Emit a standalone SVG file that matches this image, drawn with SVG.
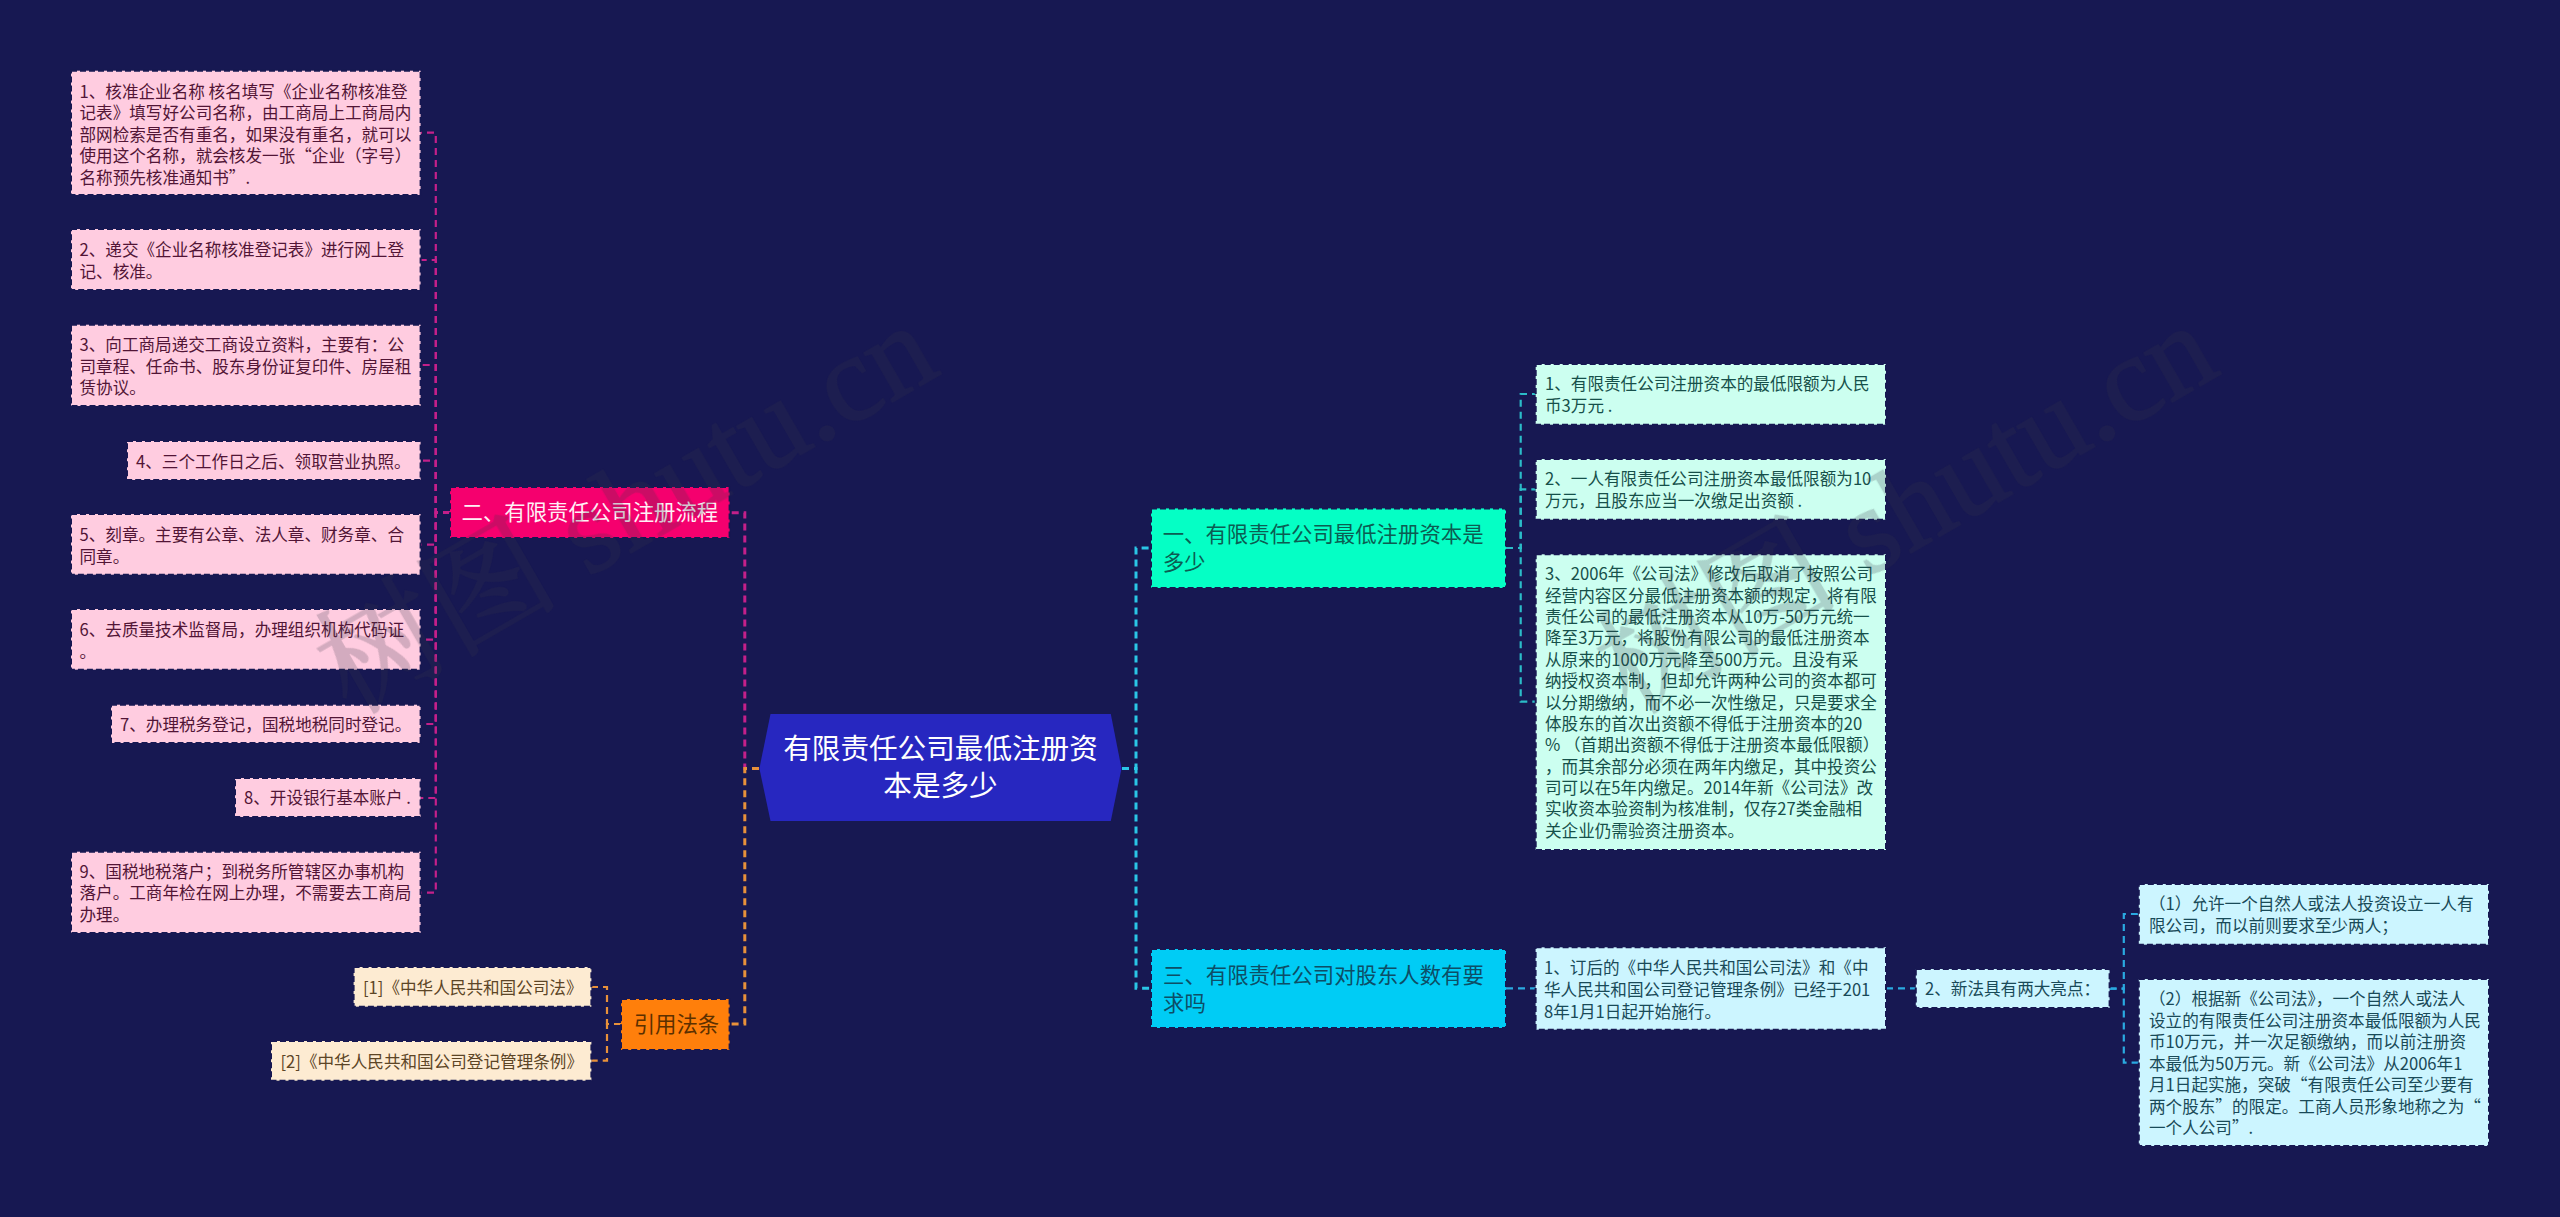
<svg xmlns="http://www.w3.org/2000/svg" width="2560" height="1217" viewBox="0 0 2560 1217">
<style>
text{font-family:"Microsoft YaHei","Noto Sans CJK SC","Noto Sans",sans-serif;white-space:pre}
.s{font-size:16.6px}
.m{font-size:21.4px}
.box{stroke:#171852;stroke-width:2;stroke-dasharray:6 3}
.pink{fill:#ffcce0}.pinkt{fill:#521536}
.cite{fill:#fdebd2}.citet{fill:#5c4526}
.aqua{fill:#ccfff0}.aquat{fill:#16504a}
.sky{fill:#ccf5ff}.skyt{fill:#194a58}
.c{fill:none;stroke-dasharray:7 5}
.c1{stroke-width:3}.c2{stroke-width:2.2}
.cp{stroke:#c4208a}.co{stroke:#e8913a}.cb{stroke:#2ac6e6}.ct{stroke:#2bbcc8}.cs{stroke:#2aa9e0}
.wm{font-family:"Liberation Serif","Noto Serif CJK SC","Noto Sans CJK SC",serif;font-size:122px;fill:#3a3a4a;stroke:#3a3a4a;stroke-width:1.5}
</style>
<rect width="2560" height="1217" fill="#171852"/>
<g id="connectors">
<path class="c c1 cb" d="M1122,768.4H1136V548H1151"/>
<path class="c c1 cb" d="M1122,768.4H1136V988.3H1151"/>
<path class="c c1 cp" d="M759,768.4H744.8V512.7H729.6"/>
<path class="c c1 co" d="M759,768.4H744.8V1024H729.6"/>
<path class="c c2 cp" d="M450,512.7H435.8V132.7H420.6"/>
<path class="c c2 cp" d="M450,512.7H435.8V260H420.6"/>
<path class="c c2 cp" d="M450,512.7H435.8V365H420.6"/>
<path class="c c2 cp" d="M450,512.7H435.8V460.7H420.6"/>
<path class="c c2 cp" d="M450,512.7H435.8V544.7H420.6"/>
<path class="c c2 cp" d="M450,512.7H435.8V639.7H420.6"/>
<path class="c c2 cp" d="M450,512.7H435.8V724H420.6"/>
<path class="c c2 cp" d="M450,512.7H435.8V798H420.6"/>
<path class="c c2 cp" d="M450,512.7H435.8V892.7H420.6"/>
<path class="c c2 co" d="M621,1024H607V987H591.4"/>
<path class="c c2 co" d="M621,1024H607V1060.7H591.4"/>
<path class="c c2 ct" d="M1506,548H1520.7V394H1535.7"/>
<path class="c c2 ct" d="M1506,548H1520.7V489.3H1535.7"/>
<path class="c c2 ct" d="M1506,548H1520.7V701.7H1535.7"/>
<path class="c c2 cs" d="M1506,988.3H1535.6"/>
<path class="c c2 cs" d="M1886,988.3H1915.8"/>
<path class="c c2 cs" d="M2109.6,988.7H2123.8V914H2138.8"/>
<path class="c c2 cs" d="M2109.6,988.7H2123.8V1062.7H2138.8"/>
</g>
<g id="root">
<polygon points="759.4,768.4 770.5,714 1110.8,714 1121.5,768.4 1110.8,821 770.5,821" fill="#2727c0"/>
<text font-size="28.6" fill="#fff" text-anchor="middle"><tspan x="940.5" y="759">有限责任公司最低注册资</tspan><tspan x="940.5" y="796">本是多少</tspan></text>
</g>
<g id="n1">
<rect class="box" x="1151" y="508.4" width="355" height="79.6" fill="#05ffc5"/>
<text class="m" fill="#0b5d52"><tspan x="1162.7" y="542">一、有限责任公司最低注册资本是</tspan><tspan x="1162.7" y="570">多少</tspan></text>
</g>
<g id="n1-1">
<rect class="box aqua" x="1535.7" y="364" width="350.3" height="60.7"/>
<text class="s aquat"><tspan x="1545" y="390.3">1、有限责任公司注册资本的最低限额为人民</tspan><tspan x="1545" y="412">币3万元 .</tspan></text>
</g>
<g id="n1-2">
<rect class="box aqua" x="1535.7" y="459" width="350.3" height="60.7"/>
<text class="s aquat"><tspan x="1545" y="485">2、一人有限责任公司注册资本最低限额为10</tspan><tspan x="1545" y="507">万元，且股东应当一次缴足出资额 .</tspan></text>
</g>
<g id="n1-3">
<rect class="box aqua" x="1535.7" y="554.3" width="350.3" height="295.7"/>
<text class="s aquat"><tspan x="1545" y="580.3">3、2006年《公司法》修改后取消了按照公司</tspan><tspan x="1545" dy="21.37">经营内容区分最低注册资本额的规定，将有限</tspan><tspan x="1545" dy="21.37">责任公司的最低注册资本从10万-50万元统一</tspan><tspan x="1545" dy="21.37">降至3万元，将股份有限公司的最低注册资本</tspan><tspan x="1545" dy="21.37">从原来的1000万元降至500万元。且没有采</tspan><tspan x="1545" dy="21.37">纳授权资本制，但却允许两种公司的资本都可</tspan><tspan x="1545" dy="21.37">以分期缴纳，而不必一次性缴足，只是要求全</tspan><tspan x="1545" dy="21.37">体股东的首次出资额不得低于注册资本的20</tspan><tspan x="1545" dy="21.37">% （首期出资额不得低于注册资本最低限额）</tspan><tspan x="1545" dy="21.37">，而其余部分必须在两年内缴足，其中投资公</tspan><tspan x="1545" dy="21.37">司可以在5年内缴足。2014年新《公司法》改</tspan><tspan x="1545" dy="21.37">实收资本验资制为核准制，仅存27类金融相</tspan><tspan x="1545" dy="21.37">关企业仍需验资注册资本。</tspan></text>
</g>
<g id="n3">
<rect class="box" x="1151" y="949" width="355" height="79" fill="#00ccf5"/>
<text class="m" fill="#0d4e66"><tspan x="1163" y="982.6">三、有限责任公司对股东人数有要</tspan><tspan x="1163" y="1010.6">求吗</tspan></text>
</g>
<g id="n3-1">
<rect class="box sky" x="1535.6" y="947.3" width="350.4" height="82.4"/>
<text class="s skyt"><tspan x="1544" y="974">1、订后的《中华人民共和国公司法》和《中</tspan><tspan x="1544" y="995.7">华人民共和国公司登记管理条例》已经于201</tspan><tspan x="1544" y="1017.7">8年1月1日起开始施行。</tspan></text>
</g>
<g id="n3-2">
<rect class="box sky" x="1915.8" y="969" width="193.8" height="39"/>
<text class="s skyt" x="1925" y="995">2、新法具有两大亮点：</text>
</g>
<g id="n3-2-1">
<rect class="box sky" x="2138.8" y="884" width="350.2" height="60.7"/>
<text class="s skyt"><tspan x="2149" y="910.3">（1）允许一个自然人或法人投资设立一人有</tspan><tspan x="2149" y="932">限公司，而以前则要求至少两人；</tspan></text>
</g>
<g id="n3-2-2">
<rect class="box sky" x="2138.8" y="979" width="350.2" height="167"/>
<text class="s skyt"><tspan x="2149" y="1005.3">（2）根据新《公司法》，一个自然人或法人</tspan><tspan x="2149" dy="21.5">设立的有限责任公司注册资本最低限额为人民</tspan><tspan x="2149" dy="21.5">币10万元，并一次足额缴纳，而以前注册资</tspan><tspan x="2149" dy="21.5">本最低为50万元。新《公司法》从2006年1</tspan><tspan x="2149" dy="21.5">月1日起实施，突破“有限责任公司至少要有</tspan><tspan x="2149" dy="21.5">两个股东”的限定。工商人员形象地称之为“</tspan><tspan x="2149" dy="21.5">一个人公司”.</tspan></text>
</g>
<g id="n2">
<rect class="box" x="450" y="487" width="279.6" height="51" fill="#f5006e"/>
<text class="m" fill="#fff0f6" x="461.5" y="520.3">二、有限责任公司注册流程</text>
</g>
<g id="n2-1">
<rect class="box pink" x="71" y="70.7" width="349.6" height="124.3"/>
<text class="s pinkt"><tspan x="79.5" y="97.7">1、核准企业名称 核名填写《企业名称核准登</tspan><tspan x="79.5" dy="21.5">记表》填写好公司名称，由工商局上工商局内</tspan><tspan x="79.5" dy="21.5">部网检索是否有重名，如果没有重名，就可以</tspan><tspan x="79.5" dy="21.5">使用这个名称，就会核发一张“企业（字号）</tspan><tspan x="79.5" dy="21.5">名称预先核准通知书”.</tspan></text>
</g>
<g id="n2-2">
<rect class="box pink" x="71" y="229" width="349.6" height="61"/>
<text class="s pinkt"><tspan x="79.5" y="256">2、递交《企业名称核准登记表》进行网上登</tspan><tspan x="79.5" dy="21.5">记、核准。</tspan></text>
</g>
<g id="n2-3">
<rect class="box pink" x="71" y="324.7" width="349.6" height="81.3"/>
<text class="s pinkt"><tspan x="79.5" y="351">3、向工商局递交工商设立资料，主要有：公</tspan><tspan x="79.5" dy="21.5">司章程、任命书、股东身份证复印件、房屋租</tspan><tspan x="79.5" dy="21.5">赁协议。</tspan></text>
</g>
<g id="n2-4">
<rect class="box pink" x="127" y="441" width="293.6" height="39"/>
<text class="s pinkt" x="136" y="467.7">4、三个工作日之后、领取营业执照。</text>
</g>
<g id="n2-5">
<rect class="box pink" x="71" y="514" width="349.6" height="60.7"/>
<text class="s pinkt"><tspan x="79.5" y="541">5、刻章。主要有公章、法人章、财务章、合</tspan><tspan x="79.5" dy="21.5">同章。</tspan></text>
</g>
<g id="n2-6">
<rect class="box pink" x="71" y="609" width="349.6" height="60.7"/>
<text class="s pinkt"><tspan x="79.5" y="636">6、去质量技术监督局，办理组织机构代码证</tspan><tspan x="79.5" dy="21.5">。</tspan></text>
</g>
<g id="n2-7">
<rect class="box pink" x="111" y="704.7" width="309.6" height="38.3"/>
<text class="s pinkt" x="120" y="731">7、办理税务登记，国税地税同时登记。</text>
</g>
<g id="n2-8">
<rect class="box pink" x="235" y="778" width="185.6" height="39"/>
<text class="s pinkt" x="244" y="804">8、开设银行基本账户 .</text>
</g>
<g id="n2-9">
<rect class="box pink" x="71" y="851.7" width="349.6" height="81.3"/>
<text class="s pinkt"><tspan x="79.5" y="877.7">9、国税地税落户；到税务所管辖区办事机构</tspan><tspan x="79.5" dy="21.5">落户。工商年检在网上办理，不需要去工商局</tspan><tspan x="79.5" dy="21.5">办理。</tspan></text>
</g>
<g id="n4">
<rect class="box" x="621" y="999" width="108.6" height="51" fill="#ff7f0b"/>
<text class="m" fill="#5c3000" x="633.7" y="1031.6">引用法条</text>
</g>
<g id="n4-1">
<rect class="box cite" x="353.6" y="967" width="237.8" height="39.7"/>
<text class="s citet" x="363" y="994">[1]《中华人民共和国公司法》</text>
</g>
<g id="n4-2">
<rect class="box cite" x="271" y="1041" width="320.4" height="39.7"/>
<text class="s citet" x="280.5" y="1067.7">[2]《中华人民共和国公司登记管理条例》</text>
</g>
<g id="watermark" opacity=".22">
<text class="wm" transform="translate(350,715) rotate(-30)">树图 shutu.cn</text>
<text class="wm" transform="translate(1630,715) rotate(-30)">树图 shutu.cn</text>
</g>
</svg>
